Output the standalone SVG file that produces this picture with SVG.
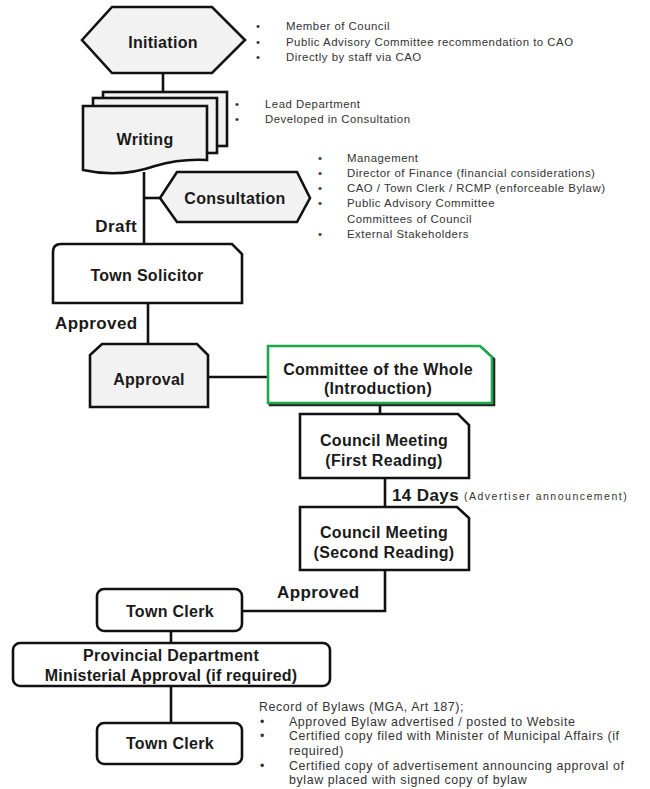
<svg xmlns="http://www.w3.org/2000/svg" width="650" height="789" viewBox="0 0 650 789">
<style>
.shape{stroke:#111;stroke-width:2.6;stroke-linejoin:miter}
.gray{fill:#f2f2f2}
.white{fill:#fff}
.conn{fill:none;stroke:#111;stroke-width:2.6}
.lbl{font-family:"Liberation Sans",Arial,sans-serif;font-weight:bold;font-size:16px;letter-spacing:0.3px;fill:#1a1a1a;text-anchor:middle}
.edge{font-family:"Liberation Sans",Arial,sans-serif;font-weight:bold;font-size:17px;letter-spacing:0.4px;fill:#1a1a1a}
.note{font-family:"Liberation Sans",Arial,sans-serif;font-size:11.4px;letter-spacing:0.5px;fill:#333}
.rec{font-family:"Liberation Sans",Arial,sans-serif;font-size:12.4px;letter-spacing:0.6px;fill:#333}
.small{font-family:"Liberation Sans",Arial,sans-serif;font-size:10.5px;letter-spacing:1.5px;fill:#333}
</style>
<rect width="650" height="789" fill="#fff"/>
<g id="connectors">
<path class="conn" d="M163,73 V92"/>
<path class="conn" d="M144,172 V244"/>
<path class="conn" d="M144,198 H160"/>
<path class="conn" d="M148,303 V344"/>
<path class="conn" d="M208,377 H268"/>
<path class="conn" d="M380,403 V414"/>
<path class="conn" d="M385,478 V507"/>
<path class="conn" d="M385,570 V611 H242"/>
<path class="conn" d="M171,631 V643"/>
<path class="conn" d="M171,686 V723"/>
<text class="edge" x="137" y="231.5" text-anchor="end">Draft</text>
<text class="edge" x="55" y="328.5">Approved</text>
<text class="edge" x="392" y="500.5">14 Days</text>
<text class="small" x="464" y="499.5">(Advertiser announcement)</text>
<text class="edge" x="277" y="597.5">Approved</text>
</g>
<g id="initiation">
<path class="shape gray" d="M82,40 L112,7 H212 L245,40 L212,73 H112 Z"/>
<text class="lbl" x="163" y="47.5">Initiation</text>
<g class="note">
<text x="256" y="30">•</text><text x="286" y="30">Member of Council</text>
<text x="256" y="46">•</text><text x="286" y="46">Public Advisory Committee recommendation to CAO</text>
<text x="256" y="61">•</text><text x="286" y="61">Directly by staff via CAO</text>
</g>
</g>
<g id="writing">
<rect class="shape gray" x="103" y="92" width="124" height="54"/>
<rect class="shape gray" x="93" y="98" width="124" height="55"/>
<path class="shape gray" d="M83,106 H207 V160 C190,159 175,160 155,166 C135,173 110,176 83,170 Z"/>
<text class="lbl" x="145" y="144.5">Writing</text>
<g class="note">
<text x="235" y="108">•</text><text x="265" y="108">Lead Department</text>
<text x="235" y="123">•</text><text x="265" y="123">Developed in Consultation</text>
</g>
</g>
<g id="consultation">
<path class="shape gray" d="M160,198 L177,172 H297 L310,198 L297,222 H177 Z"/>
<text class="lbl" x="235" y="203.5">Consultation</text>
<g class="note">
<text x="318" y="162">•</text><text x="347" y="162">Management</text>
<text x="318" y="177">•</text><text x="347" y="177">Director of Finance (financial considerations)</text>
<text x="318" y="192">•</text><text x="347" y="192">CAO / Town Clerk / RCMP (enforceable Bylaw)</text>
<text x="318" y="207">•</text><text x="347" y="207">Public Advisory Committee</text>
<text x="347" y="223">Committees of Council</text>
<text x="318" y="238">•</text><text x="347" y="238">External Stakeholders</text>
</g>
</g>
<g id="town-solicitor">
<path class="shape white" d="M53,303 V252 Q53,244 61,244 H232 L242,254 V303 Z"/>
<text class="lbl" x="147" y="280.5">Town Solicitor</text>
</g>
<g id="approval">
<path class="shape gray" d="M90,407 V355 L102,344 H197 L208,355 V407 Z"/>
<text class="lbl" x="149" y="384.5">Approval</text>
</g>
<g id="committee">
<path d="M270,348 H482 L494,359 V405 H270 Z" fill="none" stroke="#222" stroke-width="2.6"/>
<path d="M268,346 H480 L492,357 V403 H268 Z" fill="#fff" stroke="#1ea84a" stroke-width="2.6"/>
<text class="lbl" x="378" y="374.5">Committee of the Whole</text>
<text class="lbl" x="378" y="393.5">(Introduction)</text>
</g>
<g id="council-first">
<path class="shape white" d="M300,414 H458 L469,425 V478 H300 Z"/>
<text class="lbl" x="384" y="445.5">Council Meeting</text>
<text class="lbl" x="384" y="465.5">(First Reading)</text>
</g>
<g id="council-second">
<path class="shape white" d="M300,507 H457 L469,518 V570 H300 Z"/>
<text class="lbl" x="384" y="537.5">Council Meeting</text>
<text class="lbl" x="384" y="557.5">(Second Reading)</text>
</g>
<g id="town-clerk-1">
<rect class="shape white" x="97" y="589" width="145" height="42" rx="7"/>
<text class="lbl" x="170" y="616.5">Town Clerk</text>
</g>
<g id="provincial">
<rect class="shape white" x="13" y="643" width="317" height="43" rx="7"/>
<text class="lbl" x="171" y="660.5">Provincial Department</text>
<text class="lbl" x="171" y="680.5" style="letter-spacing:0.2px">Ministerial Approval (if required)</text>
</g>
<g id="town-clerk-2">
<rect class="shape white" x="97" y="723" width="145" height="41" rx="7"/>
<text class="lbl" x="170" y="748.5">Town Clerk</text>
<g class="rec">
<text x="259" y="711">Record of Bylaws (MGA, Art 187);</text>
<text x="260" y="726">•</text><text x="289" y="726">Approved Bylaw advertised / posted to Website</text>
<text x="260" y="740">•</text><text x="289" y="740">Certified copy filed with Minister of Municipal Affairs (if</text>
<text x="289" y="755">required)</text>
<text x="260" y="770">•</text><text x="289" y="770">Certified copy of advertisement announcing approval of</text>
<text x="289" y="784">bylaw placed with signed copy of bylaw</text>
</g>
</g>
</svg>
